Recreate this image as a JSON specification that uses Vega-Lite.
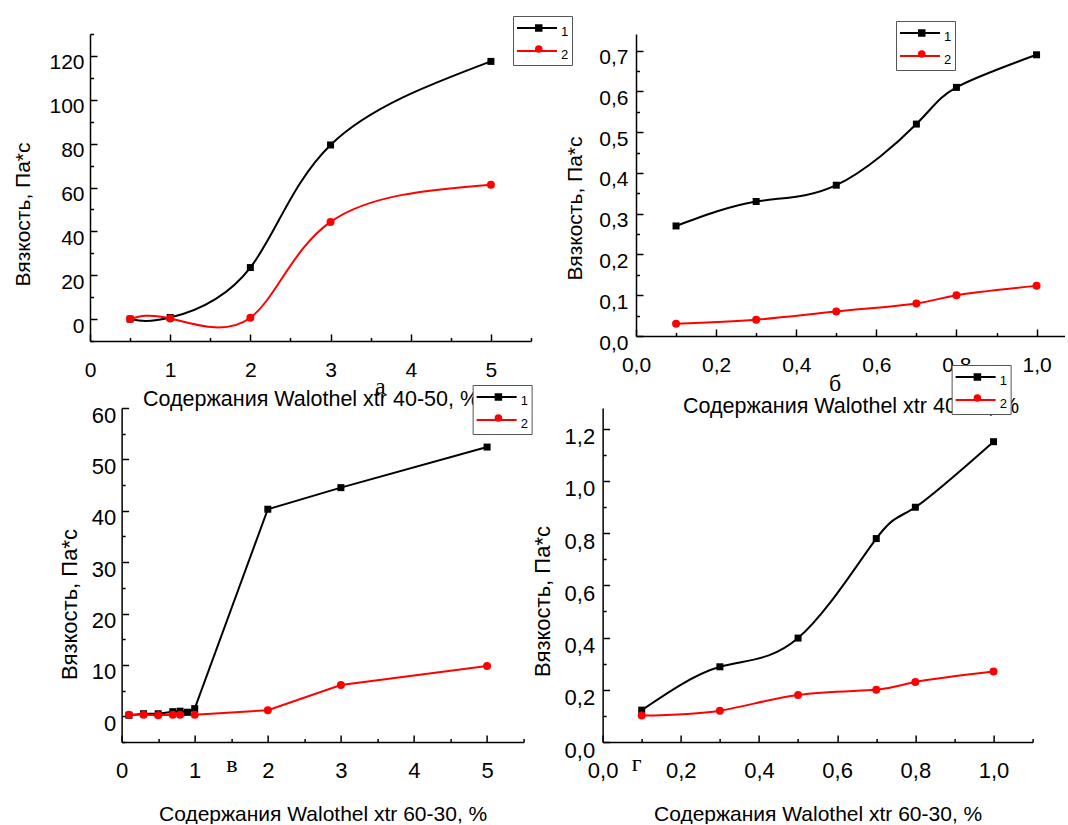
{
  "$schema": "https://vega.github.io/schema/vega-lite/v6.json",
  "background": "white",
  "padding": {"left": 12, "top": 15, "right": 0, "bottom": 0},
  "config": {
    "view": {"stroke": null},
    "font": "Liberation Sans",
    "axis": {
      "grid": false,
      "tickColor": "black",
      "tickWidth": 1.5,
      "domainColor": "black",
      "domainWidth": 1.5,
      "labelFont": "Liberation Sans",
      "labelColor": "black",
      "labelFlush": false,
      "labelOverlap": false,
      "titleFont": "Liberation Sans",
      "titleColor": "black",
      "titleFontWeight": "normal"
    },
    "legend": {
      "orient": "none",
      "padding": 3,
      "strokeColor": "#555555",
      "fillColor": "#ffffff",
      "symbolSize": 1600,
      "clipHeight": 18,
      "symbolOffset": 0,
      "labelOffset": 3,
      "labelFont": "Liberation Sans",
      "labelFontSize": 13,
      "labelColor": "black",
      "labelBaseline": "middle",
      "rowPadding": 3,
      "symbolStrokeWidth": 2
    }
  },
  "spacing": -53,
  "align": {"row": "none", "column": "each"},
  "center": true,
  "resolve": {"scale": {"color": "independent", "shape": "independent"}, "legend": {"color": "independent", "shape": "independent"}},
  "vconcat": [
    {
      "spacing": -9,
      "resolve": {"scale": {"color": "independent", "shape": "independent"}, "legend": {"color": "independent", "shape": "independent"}},
      "hconcat": [
        {
          "width": 441,
          "height": 307,
          "data": {"values": [
            {"x": 0.5, "v": 0, "s": "1"}, {"x": 1, "v": 0.7, "s": "1"}, {"x": 2, "v": 23.5, "s": "1"}, {"x": 3, "v": 79.4, "s": "1"}, {"x": 5, "v": 117.5, "s": "1"},
            {"x": 0.5, "v": 0, "s": "2"}, {"x": 1, "v": 0.3, "s": "2"}, {"x": 2, "v": 0.6, "s": "2"}, {"x": 3, "v": 44.3, "s": "2"}, {"x": 5, "v": 61.3, "s": "2"}
          ]},
          "resolve": {"axis": {"x": "independent", "y": "independent"}, "legend": {"shape": "independent"}},
          "layer": [
            {
              "mark": {"type": "line", "interpolate": "natural", "strokeWidth": 2},
              "encoding": {
                "x": {"field": "x", "type": "quantitative", "scale": {"domain": [0, 5.5], "nice": false, "zero": false},
                  "axis": {"orient": "bottom", "values": [0, 1, 2, 3, 4, 5], "format": "d", "tickSize": -7, "labelFontSize": 21, "labelPadding": 25,
                    "title": "Содержания Walothel xtr 40-50, %", "titleFontSize": 21.5, "titleY": 58, "titleBaseline": "middle"}},
                "y": {"field": "v", "type": "quantitative", "scale": {"domain": [-10, 130], "nice": false, "zero": false},
                  "axis": {"orient": "left", "values": [0, 20, 40, 60, 80, 100, 120], "format": "d", "tickSize": -7, "labelFontSize": 21, "labelPadding": 13, "labelOffset": 7,
                    "title": "Вязкость, Па*с", "titleFontSize": 21, "titleX": -67, "titleY": 180, "titleBaseline": "middle"}},
                "color": {"field": "s", "type": "nominal", "scale": {"range": ["#000000", "#ff0000"]},
                  "legend": {"title": null, "legendX": 423, "legendY": -18, "encode": {"labels": {"update": {"dy": {"value": 4}}}}}}
              }
            },
            {
              "transform": [{"filter": "datum.s === '1'"}],
              "mark": {"type": "point", "filled": true, "size": 49, "color": "#000000", "opacity": 1},
              "encoding": {
                "x": {"field": "x", "type": "quantitative", "axis": {"orient": "bottom", "values": [0.5, 1.5, 2.5, 3.5, 4.5, 5.5], "tickSize": -3.5, "labels": false, "domain": false, "title": null}},
                "y": {"field": "v", "type": "quantitative", "axis": {"orient": "left", "values": [-10, 10, 30, 50, 70, 90, 110, 130], "tickSize": -3.5, "labels": false, "domain": false, "title": null}},
                "shape": {"field": "s", "type": "nominal", "scale": {"domain": ["1", "2"], "range": ["square", "circle"]},
                  "legend": {"title": null, "values": ["1"], "legendX": 423, "legendY": -18, "strokeColor": "transparent", "fillColor": "transparent", "symbolSize": 56, "symbolOffset": 16.26, "symbolStrokeWidth": 0, "labelExpr": "''"}}
              }
            },
            {
              "transform": [{"filter": "datum.s === '2'"}],
              "mark": {"type": "point", "filled": true, "size": 64, "color": "#ff0000", "opacity": 1},
              "encoding": {
                "x": {"field": "x", "type": "quantitative", "axis": null},
                "y": {"field": "v", "type": "quantitative", "axis": null},
                "shape": {"field": "s", "type": "nominal",
                  "legend": {"title": null, "values": ["2"], "legendX": 423, "legendY": 3, "strokeColor": "transparent", "fillColor": "transparent", "symbolSize": 56, "symbolOffset": 16.26, "symbolStrokeWidth": 0, "labelExpr": "''"}}
              }
            },
            {
              "data": {"values": [{"cap": "а"}]},
              "mark": {"type": "text", "font": "Liberation Serif", "fontSize": 24, "baseline": "middle", "align": "center", "color": "black"},
              "encoding": {
                "x": {"datum": 3.62, "type": "quantitative", "axis": null},
                "y": {"datum": -31, "type": "quantitative", "axis": null},
                "text": {"field": "cap"}
              }
            }
          ]
        },
        {
          "width": 429,
          "height": 302,
          "data": {"values": [
            {"x": 0.1, "v": 0.27, "s": "1"}, {"x": 0.3, "v": 0.33, "s": "1"}, {"x": 0.5, "v": 0.37, "s": "1"}, {"x": 0.7, "v": 0.52, "s": "1"}, {"x": 0.8, "v": 0.61, "s": "1"}, {"x": 1.0, "v": 0.69, "s": "1"},
            {"x": 0.1, "v": 0.03, "s": "2"}, {"x": 0.3, "v": 0.04, "s": "2"}, {"x": 0.5, "v": 0.06, "s": "2"}, {"x": 0.7, "v": 0.08, "s": "2"}, {"x": 0.8, "v": 0.10, "s": "2"}, {"x": 1.0, "v": 0.123, "s": "2"}
          ]},
          "resolve": {"axis": {"x": "independent", "y": "independent"}, "legend": {"shape": "independent"}},
          "layer": [
            {
              "mark": {"type": "line", "interpolate": "natural", "strokeWidth": 2},
              "encoding": {
                "x": {"field": "x", "type": "quantitative", "scale": {"domain": [0, 1.071], "nice": false, "zero": false},
                  "axis": {"orient": "bottom", "values": [0, 0.2, 0.4, 0.6, 0.8, 1.0], "labelExpr": "replace(format(datum.value, '.1f'), '.', ',')", "tickSize": -7, "labelFontSize": 21, "labelPadding": 25,
                    "title": "Содержания Walothel xtr 40-50, %", "titleFontSize": 21.5, "titleY": 70, "titleBaseline": "middle"}},
                "y": {"field": "v", "type": "quantitative", "scale": {"domain": [0, 0.741], "nice": false, "zero": false},
                  "axis": {"orient": "left", "values": [0, 0.1, 0.2, 0.3, 0.4, 0.5, 0.6, 0.7], "labelExpr": "replace(format(datum.value, '.1f'), '.', ',')", "tickSize": -7, "labelFontSize": 21, "labelPadding": 15, "labelOffset": 7,
                    "title": "Вязкость, Па*с", "titleFontSize": 21, "titleX": -61, "titleY": 174, "titleBaseline": "middle"}},
                "color": {"field": "s", "type": "nominal", "scale": {"range": ["#000000", "#ff0000"]},
                  "legend": {"title": null, "legendX": 260, "legendY": -13, "encode": {"labels": {"update": {"dy": {"value": 4}}}}}}
              }
            },
            {
              "transform": [{"filter": "datum.s === '1'"}],
              "mark": {"type": "point", "filled": true, "size": 49, "color": "#000000", "opacity": 1},
              "encoding": {
                "x": {"field": "x", "type": "quantitative", "axis": {"orient": "bottom", "values": [0.1, 0.3, 0.5, 0.7, 0.9], "tickSize": -3.5, "labels": false, "domain": false, "title": null}},
                "y": {"field": "v", "type": "quantitative", "axis": {"orient": "left", "values": [0.05, 0.15, 0.25, 0.35, 0.45, 0.55, 0.65], "tickSize": -3.5, "labels": false, "domain": false, "title": null}},
                "shape": {"field": "s", "type": "nominal", "scale": {"domain": ["1", "2"], "range": ["square", "circle"]},
                  "legend": {"title": null, "values": ["1"], "legendX": 260, "legendY": -13, "strokeColor": "transparent", "fillColor": "transparent", "symbolSize": 56, "symbolOffset": 16.26, "symbolStrokeWidth": 0, "labelExpr": "''"}}
              }
            },
            {
              "transform": [{"filter": "datum.s === '2'"}],
              "mark": {"type": "point", "filled": true, "size": 64, "color": "#ff0000", "opacity": 1},
              "encoding": {
                "x": {"field": "x", "type": "quantitative", "axis": null},
                "y": {"field": "v", "type": "quantitative", "axis": null},
                "shape": {"field": "s", "type": "nominal",
                  "legend": {"title": null, "values": ["2"], "legendX": 260, "legendY": 8, "strokeColor": "transparent", "fillColor": "transparent", "symbolSize": 56, "symbolOffset": 16.26, "symbolStrokeWidth": 0, "labelExpr": "''"}}
              }
            },
            {
              "data": {"values": [{"cap": "б"}]},
              "mark": {"type": "text", "font": "Liberation Serif", "fontSize": 24, "baseline": "middle", "align": "center", "color": "black"},
              "encoding": {
                "x": {"datum": 0.497, "type": "quantitative", "axis": null},
                "y": {"datum": -0.118, "type": "quantitative", "axis": null},
                "text": {"field": "cap"}
              }
            }
          ]
        }
      ]
    },
    {
      "spacing": -1,
      "resolve": {"scale": {"color": "independent", "shape": "independent"}, "legend": {"color": "independent", "shape": "independent"}},
      "hconcat": [
        {
          "width": 402,
          "height": 334,
          "data": {"values": [
            {"x": 0.1, "v": 0.2, "s": "1"}, {"x": 0.3, "v": 0.5, "s": "1"}, {"x": 0.5, "v": 0.5, "s": "1"}, {"x": 0.7, "v": 0.9, "s": "1"}, {"x": 0.8, "v": 1.0, "s": "1"}, {"x": 0.9, "v": 0.8, "s": "1"}, {"x": 1.0, "v": 1.5, "s": "1"}, {"x": 2, "v": 40.3, "s": "1"}, {"x": 3, "v": 44.5, "s": "1"}, {"x": 5, "v": 52.4, "s": "1"},
            {"x": 0.1, "v": 0.3, "s": "2"}, {"x": 0.3, "v": 0.3, "s": "2"}, {"x": 0.5, "v": 0.2, "s": "2"}, {"x": 0.7, "v": 0.3, "s": "2"}, {"x": 0.8, "v": 0.3, "s": "2"}, {"x": 1.0, "v": 0.3, "s": "2"}, {"x": 2, "v": 1.2, "s": "2"}, {"x": 3, "v": 6.1, "s": "2"}, {"x": 5, "v": 9.8, "s": "2"}
          ]},
          "resolve": {"axis": {"x": "independent", "y": "independent"}, "legend": {"shape": "independent"}},
          "layer": [
            {
              "mark": {"type": "line", "interpolate": "linear", "strokeWidth": 2},
              "encoding": {
                "x": {"field": "x", "type": "quantitative", "scale": {"domain": [0, 5.5], "nice": false, "zero": false},
                  "axis": {"orient": "bottom", "values": [0, 1, 2, 3, 4, 5], "format": "d", "tickSize": -7, "labelFontSize": 22, "labelPadding": 25,
                    "title": "Содержания Walothel xtr 60-30, %", "titleFontSize": 21, "titleY": 72, "titleBaseline": "middle"}},
                "y": {"field": "v", "type": "quantitative", "scale": {"domain": [-5, 60], "nice": false, "zero": false},
                  "axis": {"orient": "left", "values": [0, 10, 20, 30, 40, 50, 60], "format": "d", "tickSize": -7, "labelFontSize": 22, "labelPadding": 13, "labelOffset": 7,
                    "title": "Вязкость, Па*с", "titleFontSize": 22, "titleX": -52, "titleY": 196, "titleBaseline": "middle"}},
                "color": {"field": "s", "type": "nominal", "scale": {"range": ["#000000", "#ff0000"]},
                  "legend": {"title": null, "legendX": 351, "legendY": -23, "encode": {"labels": {"update": {"dy": {"value": 4}}}}}}
              }
            },
            {
              "transform": [{"filter": "datum.s === '1'"}],
              "mark": {"type": "point", "filled": true, "size": 49, "color": "#000000", "opacity": 1},
              "encoding": {
                "x": {"field": "x", "type": "quantitative", "axis": {"orient": "bottom", "values": [0.5, 1.5, 2.5, 3.5, 4.5, 5.5], "tickSize": -3.5, "labels": false, "domain": false, "title": null}},
                "y": {"field": "v", "type": "quantitative", "axis": {"orient": "left", "values": [-5, 5, 15, 25, 35, 45, 55], "tickSize": -3.5, "labels": false, "domain": false, "title": null}},
                "shape": {"field": "s", "type": "nominal", "scale": {"domain": ["1", "2"], "range": ["square", "circle"]},
                  "legend": {"title": null, "values": ["1"], "legendX": 351, "legendY": -23, "strokeColor": "transparent", "fillColor": "transparent", "symbolSize": 56, "symbolOffset": 16.26, "symbolStrokeWidth": 0, "labelExpr": "''"}}
              }
            },
            {
              "transform": [{"filter": "datum.s === '2'"}],
              "mark": {"type": "point", "filled": true, "size": 64, "color": "#ff0000", "opacity": 1},
              "encoding": {
                "x": {"field": "x", "type": "quantitative", "axis": null},
                "y": {"field": "v", "type": "quantitative", "axis": null},
                "shape": {"field": "s", "type": "nominal",
                  "legend": {"title": null, "values": ["2"], "legendX": 351, "legendY": -2, "strokeColor": "transparent", "fillColor": "transparent", "symbolSize": 56, "symbolOffset": 16.26, "symbolStrokeWidth": 0, "labelExpr": "''"}}
              }
            },
            {
              "data": {"values": [{"cap": "в"}]},
              "mark": {"type": "text", "font": "Liberation Serif", "fontSize": 24, "baseline": "middle", "align": "center", "color": "black"},
              "encoding": {
                "x": {"datum": 1.51, "type": "quantitative", "axis": null},
                "y": {"datum": -9.5, "type": "quantitative", "axis": null},
                "text": {"field": "cap"}
              }
            }
          ]
        },
        {
          "width": 430,
          "height": 334,
          "data": {"values": [
            {"x": 0.1, "v": 0.122, "s": "1"}, {"x": 0.3, "v": 0.288, "s": "1"}, {"x": 0.5, "v": 0.398, "s": "1"}, {"x": 0.7, "v": 0.779, "s": "1"}, {"x": 0.8, "v": 0.899, "s": "1"}, {"x": 1.0, "v": 1.15, "s": "1"},
            {"x": 0.1, "v": 0.101, "s": "2"}, {"x": 0.3, "v": 0.12, "s": "2"}, {"x": 0.5, "v": 0.18, "s": "2"}, {"x": 0.7, "v": 0.2, "s": "2"}, {"x": 0.8, "v": 0.23, "s": "2"}, {"x": 1.0, "v": 0.27, "s": "2"}
          ]},
          "resolve": {"axis": {"x": "independent", "y": "independent"}, "legend": {"shape": "independent"}},
          "layer": [
            {
              "mark": {"type": "line", "interpolate": "natural", "strokeWidth": 2},
              "encoding": {
                "x": {"field": "x", "type": "quantitative", "scale": {"domain": [0, 1.1], "nice": false, "zero": false},
                  "axis": {"orient": "bottom", "values": [0, 0.2, 0.4, 0.6, 0.8, 1.0], "labelExpr": "replace(format(datum.value, '.1f'), '.', ',')", "tickSize": -7, "labelFontSize": 22, "labelPadding": 25,
                    "title": "Содержания Walothel xtr 60-30, %", "titleFontSize": 21, "titleY": 72, "titleBaseline": "middle"}},
                "y": {"field": "v", "type": "quantitative", "scale": {"domain": [0, 1.279], "nice": false, "zero": false},
                  "axis": {"orient": "left", "values": [0, 0.2, 0.4, 0.6, 0.8, 1.0, 1.2], "labelExpr": "replace(format(datum.value, '.1f'), '.', ',')", "tickSize": -7, "labelFontSize": 22, "labelPadding": 15, "labelOffset": 8,
                    "title": "Вязкость, Па*с", "titleFontSize": 22, "titleX": -60, "titleY": 193, "titleBaseline": "middle"}},
                "color": {"field": "s", "type": "nominal", "scale": {"range": ["#000000", "#ff0000"]},
                  "legend": {"title": null, "legendX": 349, "legendY": -43, "encode": {"labels": {"update": {"dy": {"value": 4}}}}}}
              }
            },
            {
              "transform": [{"filter": "datum.s === '1'"}],
              "mark": {"type": "point", "filled": true, "size": 49, "color": "#000000", "opacity": 1},
              "encoding": {
                "x": {"field": "x", "type": "quantitative", "axis": {"orient": "bottom", "values": [0.1, 0.3, 0.5, 0.7, 0.9, 1.1], "tickSize": -3.5, "labels": false, "domain": false, "title": null}},
                "y": {"field": "v", "type": "quantitative", "axis": {"orient": "left", "values": [0.1, 0.3, 0.5, 0.7, 0.9, 1.1], "tickSize": -3.5, "labels": false, "domain": false, "title": null}},
                "shape": {"field": "s", "type": "nominal", "scale": {"domain": ["1", "2"], "range": ["square", "circle"]},
                  "legend": {"title": null, "values": ["1"], "legendX": 349, "legendY": -43, "strokeColor": "transparent", "fillColor": "transparent", "symbolSize": 56, "symbolOffset": 16.26, "symbolStrokeWidth": 0, "labelExpr": "''"}}
              }
            },
            {
              "transform": [{"filter": "datum.s === '2'"}],
              "mark": {"type": "point", "filled": true, "size": 64, "color": "#ff0000", "opacity": 1},
              "encoding": {
                "x": {"field": "x", "type": "quantitative", "axis": null},
                "y": {"field": "v", "type": "quantitative", "axis": null},
                "shape": {"field": "s", "type": "nominal",
                  "legend": {"title": null, "values": ["2"], "legendX": 349, "legendY": -22, "strokeColor": "transparent", "fillColor": "transparent", "symbolSize": 56, "symbolOffset": 16.26, "symbolStrokeWidth": 0, "labelExpr": "''"}}
              }
            },
            {
              "data": {"values": [{"cap": "г"}]},
              "mark": {"type": "text", "font": "Liberation Serif", "fontSize": 24, "baseline": "middle", "align": "center", "color": "black"},
              "encoding": {
                "x": {"datum": 0.087, "type": "quantitative", "axis": null},
                "y": {"datum": -0.084, "type": "quantitative", "axis": null},
                "text": {"field": "cap"}
              }
            }
          ]
        }
      ]
    }
  ]
}
